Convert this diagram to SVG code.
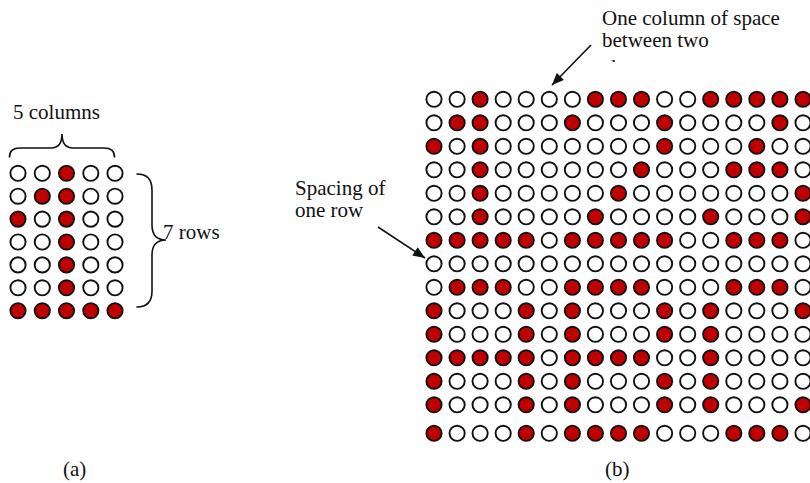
<svg xmlns="http://www.w3.org/2000/svg" xmlns:xlink="http://www.w3.org/1999/xlink" width="810" height="483" viewBox="0 0 810 483">
  <style>
    text { font-family: "Liberation Serif", "Times New Roman", serif; font-size: 21px; fill: #111; }
    .brace { fill: none; stroke: #111; stroke-width: 1.6; stroke-linecap: round; }
    .arrow { fill: none; stroke: #111; stroke-width: 1.6; }
  </style>
  <defs>
    <!-- one LED dot: lit (red) and unlit (white) -->
    <circle id="on" r="7.6" fill="#c00000" stroke="#111" stroke-width="1.9"/>
    <circle id="off" r="7.6" fill="#fff" stroke="#111" stroke-width="1.9"/>
    <marker id="head" viewBox="0 0 12 10" refX="12" refY="5" markerWidth="13" markerHeight="10" markerUnits="userSpaceOnUse" orient="auto">
      <path d="M0,0 L12,5 L0,10 z" fill="#111"/>
    </marker>
    <clipPath id="cut-line">
      <rect x="590" y="0" width="220" height="62"/>
    </clipPath>
  </defs>

  <rect width="810" height="483" fill="#fff"/>

  <!-- (a) a single 5 x 7 character cell showing "1" -->
  <g id="matrix-a">
    <g transform="translate(0,173.3)">
      <use href="#off" x="18"/><use href="#off" x="42.3"/><use href="#on" x="66.5"/><use href="#off" x="90.8"/><use href="#off" x="115"/>
    </g>
    <g transform="translate(0,196.2)">
      <use href="#off" x="18"/><use href="#on" x="42.3"/><use href="#on" x="66.5"/><use href="#off" x="90.8"/><use href="#off" x="115"/>
    </g>
    <g transform="translate(0,219.1)">
      <use href="#on" x="18"/><use href="#off" x="42.3"/><use href="#on" x="66.5"/><use href="#off" x="90.8"/><use href="#off" x="115"/>
    </g>
    <g transform="translate(0,242)">
      <use href="#off" x="18"/><use href="#off" x="42.3"/><use href="#on" x="66.5"/><use href="#off" x="90.8"/><use href="#off" x="115"/>
    </g>
    <g transform="translate(0,264.9)">
      <use href="#off" x="18"/><use href="#off" x="42.3"/><use href="#on" x="66.5"/><use href="#off" x="90.8"/><use href="#off" x="115"/>
    </g>
    <g transform="translate(0,287.8)">
      <use href="#off" x="18"/><use href="#off" x="42.3"/><use href="#on" x="66.5"/><use href="#off" x="90.8"/><use href="#off" x="115"/>
    </g>
    <g transform="translate(0,310.7)">
      <use href="#on" x="18"/><use href="#on" x="42.3"/><use href="#on" x="66.5"/><use href="#on" x="90.8"/><use href="#on" x="115"/>
    </g>
  </g>

  <g id="columns-label">
    <path class="brace" d="M9.5,157 Q9.5,148 20,148 L51,148 Q62,148 62,134 Q62,148 73,148 L104,148 Q114.5,148 114.5,157"/>
    <text x="13" y="119">5 columns</text>
  </g>

  <g id="rows-label">
    <path class="brace" d="M137,174 Q152,174 152,190 L152,225 Q152,240 166,240 Q152,240 152,255 L152,291 Q152,307 137,307"/>
    <text x="163" y="239">7 rows</text>
  </g>

  <text id="caption-a" x="63" y="476">(a)</text>

  <!-- (b) three characters per line, two lines: "123" above "ABC" -->
  <g id="matrix-b">
    <g transform="translate(0,99.3)">
      <use href="#off" x="434"/><use href="#off" x="457.1"/><use href="#on" x="480.1"/><use href="#off" x="503.2"/><use href="#off" x="526.2"/>
      <use href="#off" x="549.3"/>
      <use href="#off" x="572.4"/><use href="#on" x="595.4"/><use href="#on" x="618.5"/><use href="#on" x="641.5"/><use href="#off" x="664.6"/>
      <use href="#off" x="687.7"/>
      <use href="#on" x="710.7"/><use href="#on" x="733.8"/><use href="#on" x="756.8"/><use href="#on" x="779.9"/><use href="#on" x="803"/>
    </g>
    <g transform="translate(0,122.8)">
      <use href="#off" x="434"/><use href="#on" x="457.1"/><use href="#on" x="480.1"/><use href="#off" x="503.2"/><use href="#off" x="526.2"/>
      <use href="#off" x="549.3"/>
      <use href="#on" x="572.4"/><use href="#off" x="595.4"/><use href="#off" x="618.5"/><use href="#off" x="641.5"/><use href="#on" x="664.6"/>
      <use href="#off" x="687.7"/>
      <use href="#off" x="710.7"/><use href="#off" x="733.8"/><use href="#off" x="756.8"/><use href="#on" x="779.9"/><use href="#off" x="803"/>
    </g>
    <g transform="translate(0,146.3)">
      <use href="#on" x="434"/><use href="#off" x="457.1"/><use href="#on" x="480.1"/><use href="#off" x="503.2"/><use href="#off" x="526.2"/>
      <use href="#off" x="549.3"/>
      <use href="#off" x="572.4"/><use href="#off" x="595.4"/><use href="#off" x="618.5"/><use href="#off" x="641.5"/><use href="#on" x="664.6"/>
      <use href="#off" x="687.7"/>
      <use href="#off" x="710.7"/><use href="#off" x="733.8"/><use href="#on" x="756.8"/><use href="#off" x="779.9"/><use href="#off" x="803"/>
    </g>
    <g transform="translate(0,169.8)">
      <use href="#off" x="434"/><use href="#off" x="457.1"/><use href="#on" x="480.1"/><use href="#off" x="503.2"/><use href="#off" x="526.2"/>
      <use href="#off" x="549.3"/>
      <use href="#off" x="572.4"/><use href="#off" x="595.4"/><use href="#off" x="618.5"/><use href="#on" x="641.5"/><use href="#off" x="664.6"/>
      <use href="#off" x="687.7"/>
      <use href="#off" x="710.7"/><use href="#on" x="733.8"/><use href="#on" x="756.8"/><use href="#on" x="779.9"/><use href="#off" x="803"/>
    </g>
    <g transform="translate(0,193.3)">
      <use href="#off" x="434"/><use href="#off" x="457.1"/><use href="#on" x="480.1"/><use href="#off" x="503.2"/><use href="#off" x="526.2"/>
      <use href="#off" x="549.3"/>
      <use href="#off" x="572.4"/><use href="#off" x="595.4"/><use href="#on" x="618.5"/><use href="#off" x="641.5"/><use href="#off" x="664.6"/>
      <use href="#off" x="687.7"/>
      <use href="#off" x="710.7"/><use href="#off" x="733.8"/><use href="#off" x="756.8"/><use href="#off" x="779.9"/><use href="#on" x="803"/>
    </g>
    <g transform="translate(0,216.8)">
      <use href="#off" x="434"/><use href="#off" x="457.1"/><use href="#on" x="480.1"/><use href="#off" x="503.2"/><use href="#off" x="526.2"/>
      <use href="#off" x="549.3"/>
      <use href="#off" x="572.4"/><use href="#on" x="595.4"/><use href="#off" x="618.5"/><use href="#off" x="641.5"/><use href="#off" x="664.6"/>
      <use href="#off" x="687.7"/>
      <use href="#on" x="710.7"/><use href="#off" x="733.8"/><use href="#off" x="756.8"/><use href="#off" x="779.9"/><use href="#on" x="803"/>
    </g>
    <g transform="translate(0,240.3)">
      <use href="#on" x="434"/><use href="#on" x="457.1"/><use href="#on" x="480.1"/><use href="#on" x="503.2"/><use href="#on" x="526.2"/>
      <use href="#off" x="549.3"/>
      <use href="#on" x="572.4"/><use href="#on" x="595.4"/><use href="#on" x="618.5"/><use href="#on" x="641.5"/><use href="#on" x="664.6"/>
      <use href="#off" x="687.7"/>
      <use href="#off" x="710.7"/><use href="#on" x="733.8"/><use href="#on" x="756.8"/><use href="#on" x="779.9"/><use href="#off" x="803"/>
    </g>
    <!-- blank row between the two text lines -->
    <g transform="translate(0,263.8)">
      <use href="#off" x="434"/><use href="#off" x="457.1"/><use href="#off" x="480.1"/><use href="#off" x="503.2"/><use href="#off" x="526.2"/>
      <use href="#off" x="549.3"/>
      <use href="#off" x="572.4"/><use href="#off" x="595.4"/><use href="#off" x="618.5"/><use href="#off" x="641.5"/><use href="#off" x="664.6"/>
      <use href="#off" x="687.7"/>
      <use href="#off" x="710.7"/><use href="#off" x="733.8"/><use href="#off" x="756.8"/><use href="#off" x="779.9"/><use href="#off" x="803"/>
    </g>
    <g transform="translate(0,287.3)">
      <use href="#off" x="434"/><use href="#on" x="457.1"/><use href="#on" x="480.1"/><use href="#on" x="503.2"/><use href="#off" x="526.2"/>
      <use href="#off" x="549.3"/>
      <use href="#on" x="572.4"/><use href="#on" x="595.4"/><use href="#on" x="618.5"/><use href="#on" x="641.5"/><use href="#off" x="664.6"/>
      <use href="#off" x="687.7"/>
      <use href="#off" x="710.7"/><use href="#on" x="733.8"/><use href="#on" x="756.8"/><use href="#on" x="779.9"/><use href="#off" x="803"/>
    </g>
    <g transform="translate(0,310.8)">
      <use href="#on" x="434"/><use href="#off" x="457.1"/><use href="#off" x="480.1"/><use href="#off" x="503.2"/><use href="#on" x="526.2"/>
      <use href="#off" x="549.3"/>
      <use href="#on" x="572.4"/><use href="#off" x="595.4"/><use href="#off" x="618.5"/><use href="#off" x="641.5"/><use href="#on" x="664.6"/>
      <use href="#off" x="687.7"/>
      <use href="#on" x="710.7"/><use href="#off" x="733.8"/><use href="#off" x="756.8"/><use href="#off" x="779.9"/><use href="#on" x="803"/>
    </g>
    <g transform="translate(0,334.3)">
      <use href="#on" x="434"/><use href="#off" x="457.1"/><use href="#off" x="480.1"/><use href="#off" x="503.2"/><use href="#on" x="526.2"/>
      <use href="#off" x="549.3"/>
      <use href="#on" x="572.4"/><use href="#off" x="595.4"/><use href="#off" x="618.5"/><use href="#off" x="641.5"/><use href="#on" x="664.6"/>
      <use href="#off" x="687.7"/>
      <use href="#on" x="710.7"/><use href="#off" x="733.8"/><use href="#off" x="756.8"/><use href="#off" x="779.9"/><use href="#off" x="803"/>
    </g>
    <g transform="translate(0,357.8)">
      <use href="#on" x="434"/><use href="#on" x="457.1"/><use href="#on" x="480.1"/><use href="#on" x="503.2"/><use href="#on" x="526.2"/>
      <use href="#off" x="549.3"/>
      <use href="#on" x="572.4"/><use href="#on" x="595.4"/><use href="#on" x="618.5"/><use href="#on" x="641.5"/><use href="#off" x="664.6"/>
      <use href="#off" x="687.7"/>
      <use href="#on" x="710.7"/><use href="#off" x="733.8"/><use href="#off" x="756.8"/><use href="#off" x="779.9"/><use href="#off" x="803"/>
    </g>
    <g transform="translate(0,381.3)">
      <use href="#on" x="434"/><use href="#off" x="457.1"/><use href="#off" x="480.1"/><use href="#off" x="503.2"/><use href="#on" x="526.2"/>
      <use href="#off" x="549.3"/>
      <use href="#on" x="572.4"/><use href="#off" x="595.4"/><use href="#off" x="618.5"/><use href="#off" x="641.5"/><use href="#on" x="664.6"/>
      <use href="#off" x="687.7"/>
      <use href="#on" x="710.7"/><use href="#off" x="733.8"/><use href="#off" x="756.8"/><use href="#off" x="779.9"/><use href="#off" x="803"/>
    </g>
    <g transform="translate(0,404.8)">
      <use href="#on" x="434"/><use href="#off" x="457.1"/><use href="#off" x="480.1"/><use href="#off" x="503.2"/><use href="#on" x="526.2"/>
      <use href="#off" x="549.3"/>
      <use href="#on" x="572.4"/><use href="#off" x="595.4"/><use href="#off" x="618.5"/><use href="#off" x="641.5"/><use href="#on" x="664.6"/>
      <use href="#off" x="687.7"/>
      <use href="#on" x="710.7"/><use href="#off" x="733.8"/><use href="#off" x="756.8"/><use href="#off" x="779.9"/><use href="#on" x="803"/>
    </g>
    <g transform="translate(0,433.3)">
      <use href="#on" x="434"/><use href="#off" x="457.1"/><use href="#off" x="480.1"/><use href="#off" x="503.2"/><use href="#on" x="526.2"/>
      <use href="#off" x="549.3"/>
      <use href="#on" x="572.4"/><use href="#on" x="595.4"/><use href="#on" x="618.5"/><use href="#on" x="641.5"/><use href="#off" x="664.6"/>
      <use href="#off" x="687.7"/>
      <use href="#off" x="710.7"/><use href="#on" x="733.8"/><use href="#on" x="756.8"/><use href="#on" x="779.9"/><use href="#off" x="803"/>
    </g>
  </g>

  <g id="column-space-note">
    <text x="602" y="25">One column of space</text>
    <text x="602" y="47">between two</text>
    <text x="602" y="73.5" clip-path="url(#cut-line)">characters</text>
  </g>

  <g id="row-space-note">
    <text x="295" y="195">Spacing of</text>
    <text x="295" y="217">one row</text>
  </g>

  <text id="caption-b" x="605" y="476">(b)</text>

  <g id="connectors">
    <line class="arrow" x1="591" y1="45" x2="552" y2="85" marker-end="url(#head)"/>
    <line class="arrow" x1="378" y1="227" x2="425" y2="258" marker-end="url(#head)"/>
  </g>
</svg>
